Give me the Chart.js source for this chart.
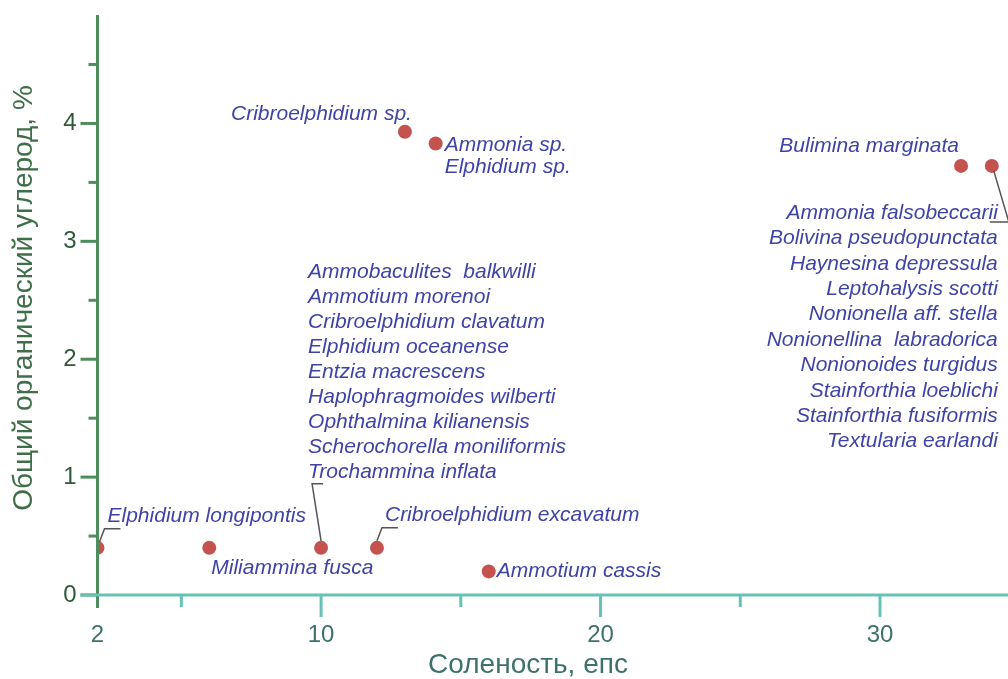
<!DOCTYPE html>
<html>
<head>
<meta charset="utf-8">
<script src="https://cdn.jsdelivr.net/npm/chart.js@4/dist/chart.umd.min.js"></script>
<style>
  html, body { margin: 0; padding: 0; background: #fff; overflow: hidden; }
  canvas { display: block; }
</style>
</head>
<body>
<canvas id="chart" width="1008" height="679"></canvas>
<script>
// salinity (x) and total organic carbon (y) for each point
const salinity = [2, 6, 10, 12, 16, 13, 14.1, 32.9, 34];
const carbon = [0.4, 0.4, 0.4, 0.4, 0.2, 3.93, 3.83, 3.64, 3.64];

// species names written next to each point
const species = [
    ['Elphidium longipontis'],
    ['Miliammina fusca'],
    ['Ammobaculites  balkwilli', 'Ammotium morenoi', 'Cribroelphidium clavatum', 'Elphidium oceanense',
     'Entzia macrescens', 'Haplophragmoides wilberti', 'Ophthalmina kilianensis',
     'Scherochorella moniliformis', 'Trochammina inflata'],
    ['Cribroelphidium excavatum'],
    ['Ammotium cassis'],
    ['Cribroelphidium sp.'],
    ['Ammonia sp.', 'Elphidium sp.'],
    ['Bulimina marginata'],
    ['Ammonia falsobeccarii', 'Bolivina pseudopunctata', 'Haynesina depressula', 'Leptohalysis scotti',
     'Nonionella aff. stella', 'Nonionellina  labradorica', 'Nonionoides turgidus',
     'Stainforthia loeblichi', 'Stainforthia fusiformis', 'Textularia earlandi']
];

// axis ticks
const xTicks = [2, 10, 20, 30];
const xMinorTicks = [5, 15, 25];
const yTicks = [0, 1, 2, 3, 4];
const yMinorTicks = [0.5, 1.5, 2.5, 3.5, 4.5];

const xTitle = 'Соленость, епс';
const yTitle = 'Общий органический углерод, %';

// where the text and leader lines go, in pixels from the point
const labelLayout = [
    { dx: 10, dy: -32, align: 'left', step: 25, leader: [[2, -6], [7, -19], [23, -19]] },
    { dx: 2, dy: 20, align: 'left', step: 25 },
    { dx: -13, dy: -276, align: 'left', step: 25, leader: [[0, -7], [-9, -64], [2, -64]] },
    { dx: 8, dy: -33, align: 'left', step: 25, leader: [[0, -7], [5, -20], [21, -20]] },
    { dx: 8, dy: 0, align: 'left', step: 25 },
    { dx: 7, dy: -18, align: 'right', step: 25 },
    { dx: 9, dy: 2, align: 'left', step: 22 },
    { dx: -2, dy: -20, align: 'right', step: 25 },
    { dx: 6, dy: 47, align: 'right', step: 25.4, leader: [[2, 5], [17, 56], [-2, 56]] }
];

const axesPlugin = {
    id: 'axesPlugin',
    afterDatasetsDraw(chart) {
        const ctx = chart.ctx;
        const xs = chart.scales.x;
        const ys = chart.scales.y;
        const x0 = xs.getPixelForValue(2);
        const y0 = ys.getPixelForValue(0);
        const meta = chart.getDatasetMeta(0);
        ctx.save();

        // leader lines
        ctx.strokeStyle = '#555';
        ctx.lineWidth = 1.5;
        labelLayout.forEach((l, i) => {
            if (!l.leader) return;
            const p = meta.data[i];
            ctx.beginPath();
            l.leader.forEach((o, k) => {
                if (k == 0) ctx.moveTo(p.x + o[0], p.y + o[1]);
                else ctx.lineTo(p.x + o[0], p.y + o[1]);
            });
            ctx.stroke();
        });

        // species names
        ctx.fillStyle = '#3f43a6';
        ctx.font = 'italic 21px "Liberation Sans", Arial, sans-serif';
        ctx.textBaseline = 'middle';
        labelLayout.forEach((l, i) => {
            const p = meta.data[i];
            ctx.textAlign = l.align;
            species[i].forEach((name, k) => {
                ctx.fillText(name, p.x + l.dx, p.y + l.dy + k * l.step);
            });
        });

        // y axis
        ctx.strokeStyle = '#4e8d5c';
        ctx.lineWidth = 3;
        ctx.beginPath();
        ctx.moveTo(x0, chart.chartArea.top);
        ctx.lineTo(x0, y0 + 13);
        ctx.stroke();
        yTicks.forEach(v => {
            const y = ys.getPixelForValue(v);
            ctx.beginPath(); ctx.moveTo(x0 - 17, y); ctx.lineTo(x0, y); ctx.stroke();
        });
        yMinorTicks.forEach(v => {
            const y = ys.getPixelForValue(v);
            ctx.beginPath(); ctx.moveTo(x0 - 9, y); ctx.lineTo(x0, y); ctx.stroke();
        });

        // x axis
        ctx.strokeStyle = '#67c1b7';
        ctx.beginPath();
        ctx.moveTo(x0 - 17, y0);
        ctx.lineTo(chart.chartArea.right, y0);
        ctx.stroke();
        xTicks.forEach(v => {
            if (v == 2) return;
            const x = xs.getPixelForValue(v);
            ctx.beginPath(); ctx.moveTo(x, y0); ctx.lineTo(x, y0 + 22); ctx.stroke();
        });
        xMinorTicks.forEach(v => {
            const x = xs.getPixelForValue(v);
            ctx.beginPath(); ctx.moveTo(x, y0); ctx.lineTo(x, y0 + 12); ctx.stroke();
        });

        // tick labels
        ctx.font = '24px "Liberation Sans", Arial, sans-serif';
        ctx.fillStyle = '#3d716d';
        ctx.textAlign = 'center';
        xTicks.forEach(v => ctx.fillText(String(v), xs.getPixelForValue(v), y0 + 40));
        ctx.fillStyle = '#2f5a37';
        ctx.textAlign = 'right';
        yTicks.forEach(v => ctx.fillText(String(v), x0 - 21, ys.getPixelForValue(v)));

        // axis titles
        ctx.font = '28px "Liberation Sans", Arial, sans-serif';
        ctx.fillStyle = '#3d716d';
        ctx.textAlign = 'center';
        ctx.fillText(xTitle, 528, 665);
        ctx.fillStyle = '#3f6e48';
        ctx.translate(24, 298);
        ctx.rotate(-Math.PI / 2);
        ctx.fillText(yTitle, 0, 0);
        ctx.restore();
    }
};

new Chart(document.getElementById('chart'), {
    type: 'scatter',
    data: {
        datasets: [{
            data: salinity.map((s, i) => ({ x: s, y: carbon[i] })),
            backgroundColor: '#c4524f',
            borderWidth: 0,
            pointRadius: 7,
            pointHoverRadius: 7
        }]
    },
    options: {
        responsive: false,
        animation: false,
        layout: { autoPadding: false, padding: { left: 97.5, right: 0, top: 15, bottom: 84 } },
        plugins: { legend: { display: false }, tooltip: { enabled: false } },
        scales: {
            x: { type: 'linear', display: false, min: 2, max: 34.58 },
            y: { type: 'linear', display: false, min: 0, max: 4.92 }
        }
    },
    plugins: [axesPlugin]
});
</script>
</body>
</html>
